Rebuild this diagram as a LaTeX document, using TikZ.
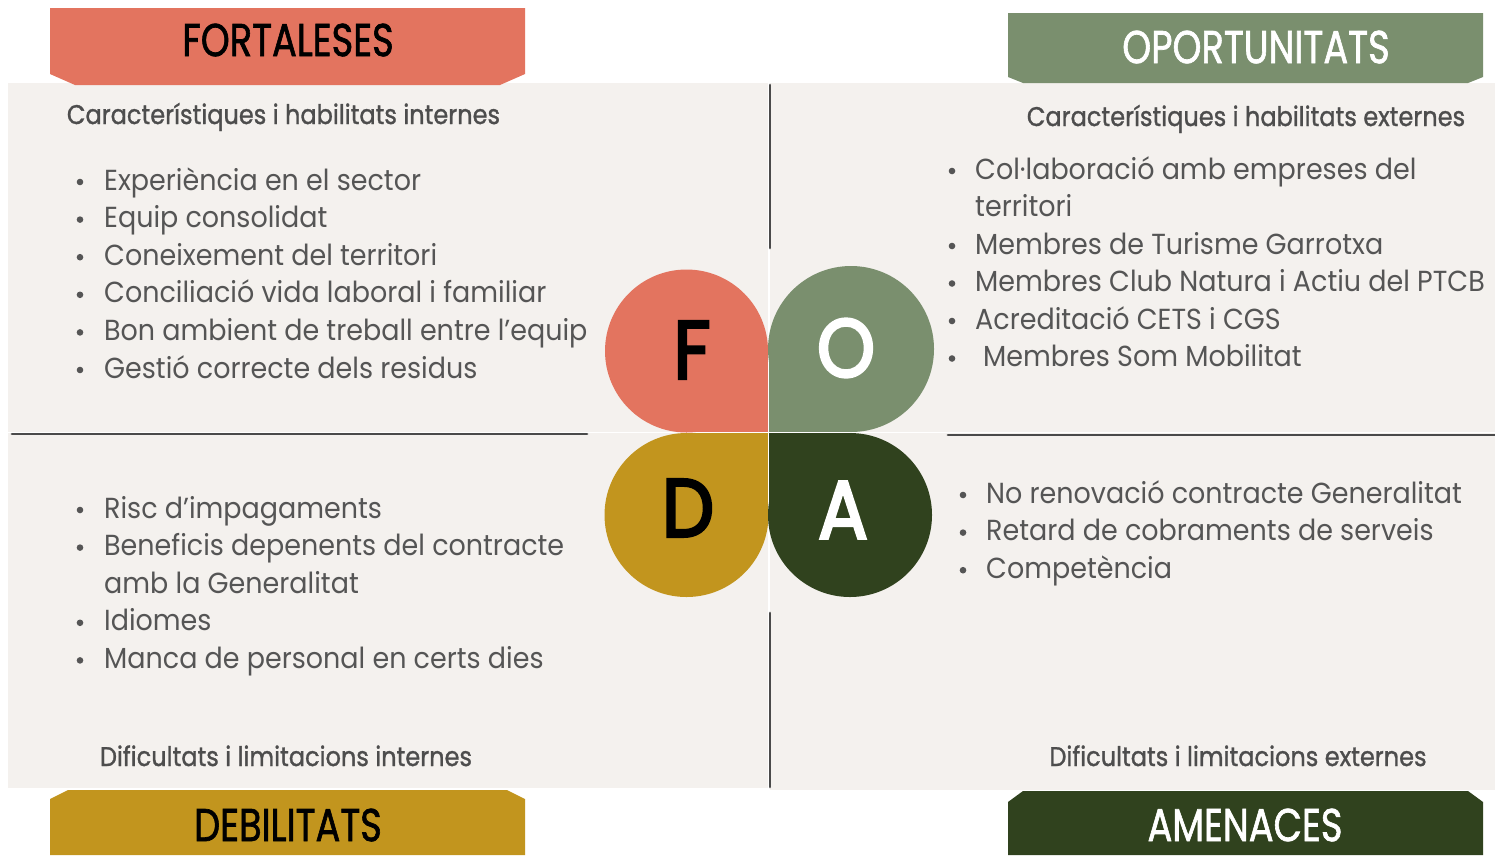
\documentclass[tikz,border=0pt]{standalone}
\usepackage{fontspec}
\setmainfont{Poppins}
\newfontfamily\medfont[FakeBold=1.6]{Poppins}
\newfontfamily\semifont[FakeBold=1.2]{Poppins}
\newfontfamily\letfont[FakeBold=3.5]{Poppins}
\usepackage{graphicx}
\definecolor{cF}{HTML}{E3745F}
\definecolor{cO}{HTML}{7A8F6E}
\definecolor{cD}{HTML}{C2951E}
\definecolor{cA}{HTML}{30421E}
\definecolor{panel}{HTML}{F4F1EE}
\definecolor{txtgray}{HTML}{555555}
\definecolor{subgray}{HTML}{4D4D4D}
\definecolor{linegray}{HTML}{4A4A4A}
\newcommand\hsq[2]{\scalebox{#1}[1]{#2}}
\newcommand\itx[1]{\hsq{0.93}{#1}}
\newcommand\stx[1]{\hsq{0.89}{#1}}
\newcommand\ttx[1]{\hsq{0.80}{#1}}
\begin{document}
\begin{tikzpicture}[x=1pt,y=-1pt,
  itemtxt/.style={anchor=base west, inner sep=0pt, text=txtgray, font=\fontsize{29}{29}\selectfont},
  subtxt/.style={anchor=base, inner sep=0pt, text=subgray, font=\fontsize{27}{27}\semifont},
  titletxt/.style={inner sep=0pt, font=\fontsize{46}{46}\medfont},
  lettertxt/.style={inner sep=0pt, font=\fontsize{82}{82}\letfont},
  bul/.style={fill=txtgray},
  sepline/.style={draw=linegray, line width=2.8pt, line cap=round}]
\useasboundingbox (0,0) rectangle (1495,855);
\fill[white] (0,0) rectangle (1495,855);
% panels
\fill[panel] (8,83) rectangle (768,431.5);
\fill[panel] (769.5,83) rectangle (1495,431.5);
\fill[panel] (8,433) rectangle (768,788);
\fill[panel] (769.5,433) rectangle (1495,790);
% banners
\fill[cF] (50,8) -- (525,8) -- (525,74) -- (500,85) -- (75,85) -- (50,74) -- cycle;
\fill[cO] (1008,13) -- (1483,13) -- (1483,77) -- (1468,83) -- (1023,83) -- (1008,77) -- cycle;
\fill[cD] (50,855) -- (50,799) -- (68,790) -- (507,790) -- (525,799) -- (525,855) -- cycle;
\fill[cA] (1008,855) -- (1008,802) -- (1023,791) -- (1468,791) -- (1483,802) -- (1483,855) -- cycle;
\node[titletxt, text=black] (tF) at (288,40) {\ttx{FORTALESES}};
\node[titletxt, text=white] (tO) at (1256,47) {\ttx{OPORTUNITATS}};
\node[titletxt, text=black] (tD) at (288,825) {\ttx{DEBILITATS}};
\node[titletxt, text=white] (tA) at (1245,825) {\ttx{AMENACES}};
% separator lines
\coordinate (vt1) at (770,85); \coordinate (vt2) at (770,248);
\coordinate (vb1) at (770,613); \coordinate (vb2) at (770,787);
\coordinate (hl1) at (12,434); \coordinate (hl2) at (587,434);
\coordinate (hr1) at (948,435); \coordinate (hr2) at (1495,435);
\draw[sepline] (vt1) -- (vt2);
\draw[sepline] (vb1) -- (vb2);
\draw[sepline] (hl1) -- (hl2);
\draw[sepline] (hr1) -- (hr2);
% petals
\fill[cF] (686.5,351) circle (81.5); \fill[cF] (686.5,351) rectangle (767.8,431.8);
\fill[cO] (851,349) circle (83); \fill[cO] (769.2,349) rectangle (851,431.8);
\fill[cD] (686.5,515) circle (82); \fill[cD] (686.5,433.2) rectangle (767.8,515);
\fill[cA] (850,515) circle (82); \fill[cA] (769.2,433.2) rectangle (850,515);
\node[lettertxt, text=black] (lF) at (692,350) {\hsq{0.9}{F}};
\node[lettertxt, text=white] (lO) at (846,348) {\hsq{0.9}{O}};
\node[lettertxt, text=black] (lD) at (688,508) {\hsq{0.9}{D}};
\node[lettertxt, text=white] (lA) at (843,510) {\hsq{0.9}{A}};
% subtitles
\node[subtxt] (s1) at (283.5,124) {\stx{Característiques i habilitats internes}};
\node[subtxt] (s2) at (1246,126) {\stx{Característiques i habilitats externes}};
\node[subtxt] (s3) at (286,766) {\stx{Dificultats i limitacions internes}};
\node[subtxt] (s4) at (1238,766) {\stx{Dificultats i limitacions externes}};
% top-left items
\foreach \y/\t [count=\i] in {190/{Experiència en el sector}, 227.6/{Equip consolidat}, 265.2/{Coneixement del territori}, 302.8/{Conciliació vida laboral i familiar}, 340.4/{Bon ambient de treball entre l’equip}, 378/{Gestió correcte dels residus}}{
  \fill[bul] (80,\y-8) circle (3.3);
  \node[itemtxt] (fo\i) at (104,\y) {\itx{\t}};
}
% top-right items
\foreach \y in {179, 254, 291.5, 329, 366.5}{\fill[bul] (952,\y-8) circle (3.3);}
\node[itemtxt] (op1) at (975,179) {\itx{Col·laboració amb empreses del}};
\node[itemtxt] (op1b) at (975,216.5) {\itx{territori}};
\node[itemtxt] (op2) at (975,254) {\itx{Membres de Turisme Garrotxa}};
\node[itemtxt] (op3) at (975,291.5) {\itx{Membres Club Natura i Actiu del PTCB}};
\node[itemtxt] (op4) at (975,329) {\itx{Acreditació CETS i CGS}};
\node[itemtxt] (op5) at (983,366.5) {\itx{Membres Som Mobilitat}};
% bottom-left items
\foreach \y in {518, 555.6, 630.8, 668.4}{\fill[bul] (80,\y-8) circle (3.3);}
\node[itemtxt] (de1) at (104,518) {\itx{Risc d’impagaments}};
\node[itemtxt] (de2) at (104,555.6) {\itx{Beneficis depenents del contracte}};
\node[itemtxt] (de2b) at (104,593.2) {\itx{amb la Generalitat}};
\node[itemtxt] (de3) at (104,630.8) {\itx{Idiomes}};
\node[itemtxt] (de4) at (104,668.4) {\itx{Manca de personal en certs dies}};
% bottom-right items
\foreach \y in {503, 540.6, 578.2}{\fill[bul] (963,\y-8) circle (3.3);}
\node[itemtxt] (am1) at (986,503) {\itx{No renovació contracte Generalitat}};
\node[itemtxt] (am2) at (986,540.6) {\itx{Retard de cobraments de serveis}};
\node[itemtxt] (am3) at (986,578.2) {\itx{Competència}};
\end{tikzpicture}
\end{document}
